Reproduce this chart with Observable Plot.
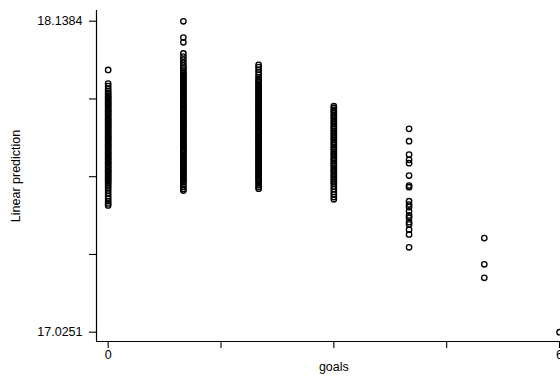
<!DOCTYPE html>
<html><head><meta charset="utf-8">
<script src="https://cdn.jsdelivr.net/npm/d3@7"></script>
<script src="https://cdn.jsdelivr.net/npm/@observablehq/plot@0.6"></script>
<style>body{margin:0;background:#fff}</style>
</head><body><div id="chart"></div>
<script>
const goals = [0, 1, 2, 3, 4, 5, 6];
const pred0 = [17.964, 17.915, 17.906, 17.897, 17.889, 17.882, 17.877, 17.871, 17.866, 17.861, 17.855, 17.850, 17.846, 17.840, 17.835, 17.830, 17.824, 17.819, 17.815, 17.809, 17.804, 17.799, 17.793, 17.788, 17.784, 17.778, 17.773, 17.768, 17.762, 17.757, 17.753, 17.747, 17.742, 17.737, 17.731, 17.726, 17.722, 17.716, 17.711, 17.706, 17.700, 17.695, 17.691, 17.685, 17.680, 17.675, 17.669, 17.664, 17.660, 17.654, 17.649, 17.644, 17.638, 17.633, 17.629, 17.623, 17.618, 17.613, 17.607, 17.602, 17.598, 17.592, 17.587, 17.582, 17.576, 17.571, 17.566, 17.560, 17.554, 17.547, 17.540, 17.532, 17.522, 17.512, 17.503, 17.494, 17.486, 17.479];
const pred1 = [18.138, 18.080, 18.063, 18.023, 18.012, 18.001, 17.990, 17.980, 17.972, 17.965, 17.957, 17.951, 17.946, 17.941, 17.935, 17.930, 17.925, 17.920, 17.914, 17.909, 17.904, 17.899, 17.893, 17.888, 17.883, 17.878, 17.872, 17.867, 17.862, 17.857, 17.851, 17.846, 17.841, 17.836, 17.830, 17.825, 17.820, 17.815, 17.809, 17.804, 17.799, 17.794, 17.788, 17.783, 17.778, 17.773, 17.767, 17.762, 17.757, 17.752, 17.746, 17.741, 17.736, 17.731, 17.725, 17.720, 17.715, 17.710, 17.704, 17.699, 17.694, 17.689, 17.683, 17.678, 17.673, 17.668, 17.662, 17.657, 17.652, 17.647, 17.641, 17.636, 17.631, 17.626, 17.620, 17.615, 17.610, 17.605, 17.599, 17.594, 17.589, 17.584, 17.578, 17.573, 17.568, 17.562, 17.553, 17.545, 17.538, 17.532];
const pred2 = [17.982, 17.974, 17.965, 17.956, 17.947, 17.938, 17.931, 17.925, 17.920, 17.914, 17.909, 17.904, 17.898, 17.893, 17.888, 17.883, 17.877, 17.872, 17.867, 17.862, 17.856, 17.851, 17.846, 17.841, 17.835, 17.830, 17.825, 17.820, 17.814, 17.809, 17.804, 17.799, 17.793, 17.788, 17.783, 17.778, 17.772, 17.767, 17.762, 17.757, 17.751, 17.746, 17.741, 17.736, 17.730, 17.725, 17.720, 17.715, 17.709, 17.704, 17.699, 17.694, 17.688, 17.683, 17.678, 17.673, 17.667, 17.662, 17.657, 17.652, 17.646, 17.641, 17.636, 17.631, 17.625, 17.620, 17.615, 17.610, 17.604, 17.599, 17.594, 17.589, 17.583, 17.578, 17.573, 17.567, 17.560, 17.552, 17.545, 17.539];
const pred3 = [17.834, 17.828, 17.821, 17.815, 17.809, 17.802, 17.796, 17.790, 17.783, 17.777, 17.771, 17.764, 17.758, 17.752, 17.745, 17.739, 17.733, 17.726, 17.720, 17.714, 17.707, 17.701, 17.695, 17.688, 17.682, 17.676, 17.669, 17.663, 17.657, 17.650, 17.644, 17.638, 17.631, 17.625, 17.619, 17.612, 17.606, 17.600, 17.593, 17.587, 17.581, 17.574, 17.568, 17.562, 17.556, 17.546, 17.537, 17.527, 17.518, 17.509, 17.501];
const pred4 = [17.753, 17.709, 17.661, 17.642, 17.630, 17.586, 17.550, 17.544, 17.494, 17.482, 17.473, 17.458, 17.443, 17.435, 17.419, 17.411, 17.392, 17.375, 17.329];
const pred5 = [17.362, 17.268, 17.220];
const pred6 = [17.0251];

const yTicks = [17.0251, 17.303425, 17.58175, 17.860075, 18.1384];
const yTickLabels = ["17.0251", "", "", "", "18.1384"];
const xTicks = [0, 1.5, 3, 4.5, 6];
const xTickLabels = ["0", "", "", "", "6"];
const yTitle = "Linear prediction";
const xTitle = "goals";

const series = [pred0, pred1, pred2, pred3, pred4, pred5, pred6];
const data = [];
series.forEach((vals, i) => vals.forEach(v => data.push({goals: goals[i], pred: v})));

const font = "'Liberation Sans', Arial, sans-serif";
const chart = Plot.plot({
  width: 560, height: 376,
  marginLeft: 96, marginRight: 0, marginTop: 10, marginBottom: 35,
  style: {fontFamily: font, fontSize: "12.5px", background: "#fff", color: "#000"},
  x: {domain: [-0.155, 6.013]},
  y: {domain: [16.9918, 18.1767]},
  marks: [
    Plot.axisY(yTicks, {tickSize: 7, tickPadding: 7, tickFormat: d => yTickLabels[yTicks.indexOf(d)], label: null, stroke: "#000", fill: "#000", strokeWidth: 1.1}),
    Plot.axisX(xTicks, {tickSize: 7, tickPadding: 2, tickFormat: d => xTickLabels[xTicks.indexOf(d)], label: null, stroke: "#000", fill: "#000", strokeWidth: 1.1}),
    Plot.ruleX([-0.155], {stroke: "#000", strokeWidth: 1.2}),
    Plot.ruleY([16.9918], {stroke: "#000", strokeWidth: 1.2}),
    Plot.dot(data, {x: "goals", y: "pred", r: 2.7, stroke: "#000", strokeWidth: 1.35, fill: "none"}),
    Plot.text([yTitle], {frameAnchor: "left", textAnchor: "middle", dx: -81, rotate: -90, fontSize: 12.5, fill: "#000"}),
    Plot.text([xTitle], {x: () => 3, frameAnchor: "bottom", dy: 29, fontSize: 12.5, fill: "#000"})
  ]
});
document.getElementById("chart").appendChild(chart);
</script>
</body></html>
